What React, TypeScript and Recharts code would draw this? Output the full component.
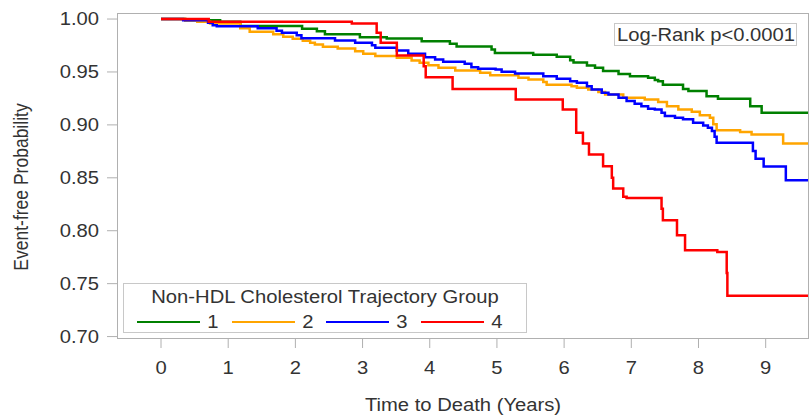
import { Line, LineChart, XAxis, YAxis } from "recharts";

const FONT = "'Liberation Sans', Arial, sans-serif";
const FONT_SIZE = 17.5;
const STRETCH = 1.155; // text in the source is a bit wider than plain Arial
const AXIS_GRAY = "#b0b0b0";
const TEXT = "#333";

const groupNames = ["1", "2", "3", "4"];
const groupColors = ["#008000", "#ffa500", "#0000ff", "#ff0000"];

const xTicks = [0, 1, 2, 3, 4, 5, 6, 7, 8, 9];
const yTicks = [0.7, 0.75, 0.8, 0.85, 0.9, 0.95, 1.0];

// Kaplan-Meier steps (years, survival after the step)
const group1Time = [0, 0.36, 0.88, 1.18, 2.1, 2.32, 2.44, 2.96, 3.36, 3.88, 4.3, 4.4, 4.92, 4.97, 5.54, 5.89, 6.09, 6.14, 6.34, 6.46, 6.58, 6.81, 6.98, 7.25, 7.35, 7.4, 7.47, 7.77, 7.85, 8.12, 8.29, 8.77, 8.94, 9.63];
const group1Surv = [1.0, 0.9989, 0.9974, 0.9934, 0.9908, 0.9885, 0.9857, 0.9828, 0.9816, 0.979, 0.9766, 0.974, 0.9712, 0.968, 0.9662, 0.9643, 0.961, 0.959, 0.956, 0.954, 0.9508, 0.948, 0.946, 0.9445, 0.9425, 0.9413, 0.938, 0.934, 0.9319, 0.927, 0.9247, 0.9177, 0.9115, 0.9115];

const group2Time = [0, 0.36, 0.54, 0.73, 1.18, 1.32, 1.67, 1.82, 1.96, 2.11, 2.22, 2.29, 2.41, 2.63, 2.89, 3.01, 3.19, 3.51, 3.73, 3.85, 3.98, 4.13, 4.38, 4.75, 4.9, 5.32, 5.47, 5.69, 5.74, 6.11, 6.19, 6.36, 6.51, 6.61, 6.88, 7.2, 7.4, 7.53, 7.7, 7.9, 8.02, 8.17, 8.22, 8.27, 8.62, 8.79, 9.26, 9.63];
const group2Surv = [1.0, 0.9985, 0.9974, 0.9958, 0.9913, 0.9879, 0.9857, 0.9832, 0.9813, 0.9794, 0.9775, 0.976, 0.9738, 0.9722, 0.9696, 0.9672, 0.965, 0.9634, 0.9608, 0.9587, 0.9564, 0.954, 0.9514, 0.9492, 0.947, 0.9445, 0.9429, 0.9404, 0.938, 0.9366, 0.935, 0.9335, 0.931, 0.9288, 0.9257, 0.924, 0.9215, 0.9177, 0.9146, 0.9124, 0.909, 0.9068, 0.9005, 0.895, 0.8932, 0.891, 0.8825, 0.8825];

const group3Time = [0, 0.33, 0.7, 0.77, 0.83, 1.44, 1.72, 1.8, 2.02, 2.09, 2.59, 2.89, 3.14, 3.19, 3.51, 3.68, 3.93, 4.08, 4.2, 4.52, 4.62, 4.72, 4.98, 5.07, 5.27, 5.69, 5.89, 6.09, 6.19, 6.34, 6.41, 6.56, 6.66, 6.81, 6.93, 7.05, 7.15, 7.25, 7.35, 7.45, 7.5, 7.65, 7.77, 7.92, 8.07, 8.14, 8.2, 8.24, 8.27, 8.81, 8.85, 8.97, 9.3, 9.63];
const group3Surv = [1.0, 0.9989, 0.9964, 0.9942, 0.9932, 0.9913, 0.9889, 0.987, 0.9847, 0.9819, 0.9797, 0.9775, 0.9753, 0.9728, 0.9703, 0.9672, 0.964, 0.9618, 0.9596, 0.9577, 0.9545, 0.953, 0.9524, 0.9502, 0.9486, 0.946, 0.9436, 0.9413, 0.9398, 0.9366, 0.9335, 0.9304, 0.9288, 0.9257, 0.9225, 0.92, 0.9177, 0.9153, 0.9146, 0.9115, 0.9083, 0.9068, 0.9052, 0.9021, 0.8995, 0.8974, 0.8942, 0.8889, 0.8832, 0.8753, 0.868, 0.8606, 0.8476, 0.8476];

const group4Time = [0, 0.71, 2.84, 3.21, 3.27, 3.51, 3.91, 3.94, 4.34, 5.28, 5.98, 6.18, 6.28, 6.37, 6.58, 6.71, 6.73, 6.88, 6.93, 7.45, 7.47, 7.68, 7.8, 8.28, 8.42, 8.43, 9.63];
const group4Surv = [1.0, 0.9975, 0.9958, 0.987, 0.9775, 0.9656, 0.9555, 0.945, 0.934, 0.924, 0.9146, 0.8926, 0.8825, 0.872, 0.861, 0.85, 0.84, 0.832, 0.831, 0.8208, 0.81, 0.7958, 0.7816, 0.78, 0.76, 0.7385, 0.7385];

const toPoints = (time: number[], surv: number[]) =>
  time.map((t, i) => ({ t, s: surv[i] }));

const series = [
  toPoints(group1Time, group1Surv),
  toPoints(group2Time, group2Surv),
  toPoints(group3Time, group3Surv),
  toPoints(group4Time, group4Surv),
];

const stretchAt = (x: number, y: number) =>
  `translate(${x},${y}) scale(${STRETCH},1) translate(${-x},${-y})`;

function XTick({ x, y, payload }: any) {
  return (
    <text
      x={x}
      y={y}
      dy="0.71em"
      textAnchor="middle"
      fontSize={FONT_SIZE}
      fontFamily={FONT}
      fill={TEXT}
      transform={stretchAt(x, y)}
    >
      {payload.value}
    </text>
  );
}

function YTick({ x, y, payload }: any) {
  return (
    <text
      x={x}
      y={y}
      dy="0.355em"
      textAnchor="end"
      fontSize={FONT_SIZE}
      fontFamily={FONT}
      fill={TEXT}
      transform={stretchAt(x, y)}
    >
      {(payload.value as number).toFixed(2)}
    </text>
  );
}

const wide = (extra = "") => `${extra} scaleX(${STRETCH})`;

export default function App() {
  return (
    <div
      style={{
        position: "absolute",
        left: 0,
        top: 0,
        width: 809,
        height: 420,
        background: "#fff",
        fontFamily: FONT,
        fontSize: FONT_SIZE,
        color: TEXT,
      }}
    >
      <LineChart width={809} height={420} margin={{ top: 13, right: 1, bottom: 0, left: 0 }}>
        <XAxis
          dataKey="t"
          type="number"
          domain={[-0.655, 9.63]}
          ticks={xTicks}
          interval={0}
          allowDataOverflow
          height={81}
          axisLine={false}
          tickLine={{ stroke: AXIS_GRAY }}
          tickSize={9}
          tickMargin={14}
          tick={<XTick />}
        />
        <YAxis
          type="number"
          domain={[0.6977, 1.0057]}
          ticks={yTicks}
          interval={0}
          allowDataOverflow
          width={117}
          axisLine={false}
          tickLine={{ stroke: AXIS_GRAY }}
          tickSize={10}
          tickMargin={8}
          tick={<YTick />}
        />
        {series.map((data, i) => (
          <Line
            key={groupNames[i]}
            data={data}
            dataKey="s"
            type="stepAfter"
            stroke={groupColors[i]}
            strokeWidth={2.5}
            dot={false}
            activeDot={false}
            isAnimationActive={false}
          />
        ))}
      </LineChart>

      {/* plot frame */}
      <div
        style={{
          position: "absolute",
          left: 117,
          top: 13,
          width: 692,
          height: 326,
          border: `1px solid ${AXIS_GRAY}`,
          boxSizing: "border-box",
          pointerEvents: "none",
        }}
      />

      {/* axis titles */}
      <div
        style={{
          position: "absolute",
          left: 22,
          top: 187,
          transform: `translate(-50%, -50%) rotate(-90deg) scaleY(${STRETCH})`,
          whiteSpace: "nowrap",
        }}
      >
        Event-free Probability
      </div>
      <div
        style={{
          position: "absolute",
          left: 463,
          top: 405,
          transform: wide("translate(-50%, -50%)"),
          whiteSpace: "nowrap",
        }}
      >
        Time to Death (Years)
      </div>

      {/* log-rank box */}
      <div
        style={{
          position: "absolute",
          left: 614,
          top: 23,
          width: 183,
          height: 23,
          border: "1px solid #c8c8c8",
          boxSizing: "border-box",
          background: "#fff",
        }}
      >
        <div
          style={{
            position: "absolute",
            left: "50%",
            top: "50%",
            transform: wide("translate(-50%, -50%)"),
            whiteSpace: "nowrap",
            lineHeight: "20px",
          }}
        >
          Log-Rank p&lt;0.0001
        </div>
      </div>

      {/* legend */}
      <div
        style={{
          position: "absolute",
          left: 123,
          top: 283,
          width: 404,
          height: 50,
          border: "1px solid #c8c8c8",
          boxSizing: "border-box",
          background: "#fff",
        }}
      >
        <div
          style={{
            position: "absolute",
            left: "50%",
            top: 13,
            transform: wide("translate(-50%, -50%)"),
            whiteSpace: "nowrap",
            lineHeight: "20px",
          }}
        >
          Non-HDL Cholesterol Trajectory Group
        </div>
        {groupNames.map((name, i) => (
          <div
            key={name}
            style={{
              position: "absolute",
              left: 13 + i * 94.7,
              top: 28,
              height: 20,
              display: "flex",
              alignItems: "center",
              whiteSpace: "nowrap",
            }}
          >
            <span
              style={{
                display: "inline-block",
                width: 63,
                height: 2,
                background: groupColors[i],
                marginRight: 8,
              }}
            />
            <span
              style={{
                display: "inline-block",
                lineHeight: "20px",
                transform: `scaleX(${STRETCH})`,
              }}
            >
              {name}
            </span>
          </div>
        ))}
      </div>
    </div>
  );
}
